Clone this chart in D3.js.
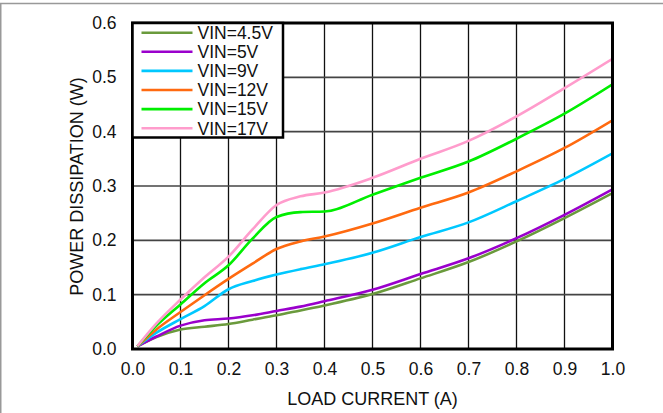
<!DOCTYPE html>
<html>
<head>
<meta charset="utf-8">
<script src="https://cdn.jsdelivr.net/npm/d3@7"></script>
<style>
  body { margin: 0; background: #fff; }
  text { font-family: "Liberation Sans", Arial, sans-serif; fill: #111; }
</style>
</head>
<body>
<div id="chart"></div>
<script>
// load current (A) sampled along the curves
var loadCurrent = [0.01, 0.05, 0.1, 0.15, 0.2, 0.25, 0.3, 0.35, 0.4, 0.5, 0.6, 0.7, 0.8, 0.9, 1.0];

// power dissipation (W) per input voltage
var vin45 = [0.005, 0.022, 0.036, 0.041, 0.046, 0.054, 0.062, 0.071, 0.080, 0.101, 0.130, 0.160, 0.198, 0.241, 0.287];
var vin5  = [0.005, 0.023, 0.043, 0.053, 0.056, 0.062, 0.070, 0.078, 0.088, 0.109, 0.138, 0.167, 0.204, 0.247, 0.294];
var vin9  = [0.005, 0.030, 0.055, 0.079, 0.110, 0.125, 0.137, 0.147, 0.156, 0.177, 0.206, 0.233, 0.272, 0.313, 0.360];
var vin12 = [0.005, 0.036, 0.068, 0.099, 0.129, 0.157, 0.184, 0.198, 0.207, 0.231, 0.260, 0.288, 0.327, 0.370, 0.421];
var vin15 = [0.005, 0.043, 0.082, 0.121, 0.154, 0.203, 0.243, 0.252, 0.253, 0.284, 0.315, 0.345, 0.387, 0.433, 0.487];
var vin17 = [0.005, 0.047, 0.091, 0.132, 0.170, 0.220, 0.265, 0.281, 0.288, 0.315, 0.350, 0.383, 0.428, 0.480, 0.534];

var seriesNames = ["VIN=4.5V", "VIN=5V", "VIN=9V", "VIN=12V", "VIN=15V", "VIN=17V"];
var seriesValues = [vin45, vin5, vin9, vin12, vin15, vin17];
var seriesColors = ["#6a9a3c", "#9a00cc", "#00c8ff", "#ff6a10", "#00ee00", "#ff9ccc"];

var xTicks = [0, 0.1, 0.2, 0.3, 0.4, 0.5, 0.6, 0.7, 0.8, 0.9, 1.0];
var yTicks = [0, 0.1, 0.2, 0.3, 0.4, 0.5, 0.6];

var W = 663, H = 413;
var plotL = 132.5, plotR = 612.5, plotT = 23, plotB = 349;

var svg = d3.select("#chart").append("svg")
    .attr("width", W)
    .attr("height", H);

// outer frame lines of the figure
svg.append("line").attr("x1", 0).attr("x2", W).attr("y1", 3.5).attr("y2", 3.5)
    .attr("stroke", "#999").attr("stroke-width", 1.5);
svg.append("line").attr("x1", 0.75).attr("x2", 0.75).attr("y1", 3.5).attr("y2", H)
    .attr("stroke", "#999").attr("stroke-width", 1.5);

var x = d3.scaleLinear().domain([0, 1]).range([plotL, plotR]);
var y = d3.scaleLinear().domain([0, 0.6]).range([plotB, plotT]);

// grid
svg.append("g").selectAll("line").data(xTicks.slice(1, -1)).enter().append("line")
    .attr("x1", function(d) { return x(d); })
    .attr("x2", function(d) { return x(d); })
    .attr("y1", plotT).attr("y2", plotB)
    .attr("stroke", "#111").attr("stroke-width", 1.3);
svg.append("g").selectAll("line").data(yTicks.slice(1, -1)).enter().append("line")
    .attr("y1", function(d) { return y(d); })
    .attr("y2", function(d) { return y(d); })
    .attr("x1", plotL).attr("x2", plotR)
    .attr("stroke", "#444").attr("stroke-width", 1.7);

// axes (labels only)
var xAxis = svg.append("g")
    .attr("transform", "translate(0," + plotB + ")")
    .call(d3.axisBottom(x).tickValues(xTicks).tickFormat(d3.format(".1f")).tickSize(0).tickPadding(11));
var yAxis = svg.append("g")
    .attr("transform", "translate(" + plotL + ",0)")
    .call(d3.axisLeft(y).tickValues(yTicks).tickFormat(d3.format(".1f")).tickSize(0).tickPadding(16));
[xAxis, yAxis].forEach(function(a) {
    a.select(".domain").remove();
    a.selectAll("text")
        .style("font-family", "'Liberation Sans', Arial, sans-serif")
        .style("font-size", "17.5px")
        .attr("fill", "#111");
});
xAxis.selectAll("text").attr("dy", "0.85em");

// curves
svg.append("clipPath").attr("id", "clip")
    .append("rect").attr("x", plotL).attr("y", plotT)
    .attr("width", plotR - plotL).attr("height", plotB - plotT);

var line = d3.line()
    .x(function(d) { return x(d[0]); })
    .y(function(d) { return y(d[1]); })
    .curve(d3.curveMonotoneX);

svg.append("g").attr("clip-path", "url(#clip)")
    .selectAll("path").data(seriesValues).enter().append("path")
    .attr("d", function(vals) {
        return line(loadCurrent.map(function(c, i) { return [c, vals[i]]; }));
    })
    .attr("fill", "none")
    .attr("stroke", function(d, i) { return seriesColors[i]; })
    .attr("stroke-width", 2.6)
    .attr("stroke-linejoin", "round");

// plot frame
svg.append("rect")
    .attr("x", plotL).attr("y", plotT)
    .attr("width", plotR - plotL).attr("height", plotB - plotT)
    .attr("fill", "none").attr("stroke", "#000").attr("stroke-width", 3);

// legend
var lg = svg.append("g");
lg.append("rect")
    .attr("x", plotL).attr("y", plotT)
    .attr("width", 150.5).attr("height", 114.5)
    .attr("fill", "#fff").attr("stroke", "#000").attr("stroke-width", 2.5);
var rows = lg.selectAll("g.row").data(seriesNames).enter().append("g")
    .attr("transform", function(d, i) { return "translate(0," + (32.7 + i * 19.1) + ")"; });
rows.append("line")
    .attr("x1", 141.5).attr("x2", 192.5)
    .attr("stroke", function(d, i) { return seriesColors[i]; })
    .attr("stroke-width", 2.6);
rows.append("text")
    .attr("x", 197.5).attr("dy", "0.36em")
    .style("font-size", "17.5px")
    .text(function(d) { return d; });

// axis titles
svg.append("text")
    .attr("x", (plotL + plotR) / 2).attr("y", 405)
    .attr("text-anchor", "middle")
    .style("font-size", "18px")
    .text("LOAD CURRENT (A)");
svg.append("text")
    .attr("transform", "translate(83," + 186.5 + ") rotate(-90)")
    .attr("text-anchor", "middle")
    .style("font-size", "18px")
    .text("POWER DISSIPATION (W)");
</script>
</body>
</html>
